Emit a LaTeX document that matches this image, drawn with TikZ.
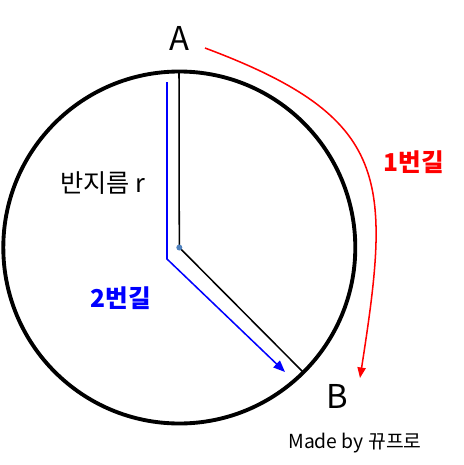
\documentclass[tikz,border=0pt]{standalone}
\usepackage{fontspec}
\setmainfont{Noto Sans CJK KR}
\usetikzlibrary{arrows.meta}
\definecolor{dotblue}{RGB}{79,129,189}

\begin{document}
\begin{tikzpicture}[x=0.03cm,y=-0.03cm]
\useasboundingbox (0,0) rectangle (463,465);
  \draw[line width=3.3pt] (179.3,247.5) coordinate(O) circle (176) ;
  \coordinate (T) at (179,72) ;
  \coordinate (E) at (303,372) ;
  \draw[line width=1.3pt] (T) -- (O) -- (E) ;
  \draw[line width=1.3pt,blue,-{Triangle[length=10pt,width=8pt]}] (167,82) coordinate(P) -- (167,259) -- (285,372) coordinate(Q) ;
  \draw[line width=1.3pt,red,-{Triangle[length=9pt,width=7pt]}] (205,48) coordinate(S) .. controls (392,118) and (391,179) .. (360,378) coordinate(F) ;
  \fill[dotblue] (O) circle (3) ;
  \node[font=\fontsize{28}{30}\selectfont] (A) at (179,38) {A} ;
  \node[font=\fontsize{28}{30}\selectfont] (B) at (337,396) {B} ;
  \node[font=\fontsize{21.5}{24}\selectfont] (r) at (103,183) {반지름 r} ;
  \node[font=\fontsize{21}{24}\selectfont\bfseries,red] (w1) at (414,162) {1번길} ;
  \node[font=\fontsize{21}{24}\selectfont\bfseries,blue] (w2) at (121,298) {2번길} ;
  \node[font=\fontsize{16.5}{18}\selectfont] (m) at (355,443) {Made by 뀨프로} ;
\end{tikzpicture}
\end{document}
